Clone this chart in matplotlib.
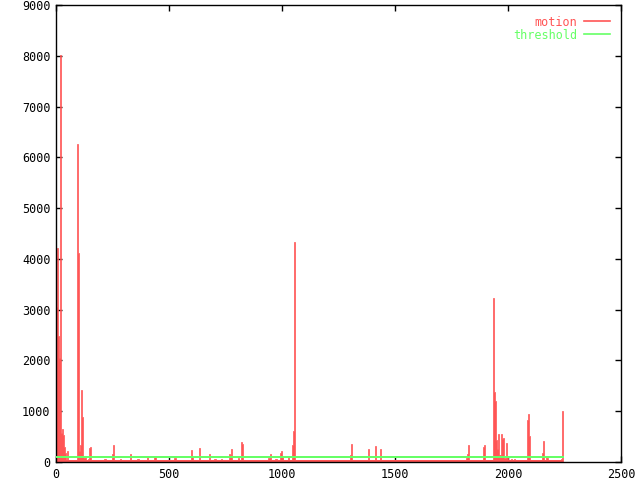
import matplotlib
matplotlib.use("Agg")
import matplotlib.pyplot as plt

_FONT = "DejaVu Sans Mono"
RED = "#ff5555"
GREEN = "#66ff66"

# motion value per frame, held from each frame until the next one
frames = [
    0, 4, 9, 13, 18, 21, 25, 30, 34, 38, 43, 47, 52,
    91, 96, 100, 105, 109, 113, 118, 122, 127, 131, 140, 144, 149, 153, 157,
    212, 221, 248, 252, 257, 282, 286, 326, 330, 357, 366, 404, 408, 434, 442,
    522, 531, 549, 558, 597, 602, 606, 633, 637, 676, 680, 699, 708, 730, 735,
    766, 770, 774, 779, 783, 805, 810, 819, 823, 827, 938, 947, 951, 969, 978,
    991, 996, 1000, 1004, 1027, 1031, 1044, 1049, 1053, 1057,
    1301, 1305, 1310, 1380, 1385, 1407, 1411, 1416, 1434, 1438,
    1814, 1818, 1823, 1827, 1889, 1894, 1898,
    1934, 1938, 1942, 1947, 1951, 1956, 1960, 1969, 1973, 1978, 1982, 1991,
    1996, 2000, 2004, 2013, 2018, 2027, 2031, 2082, 2087, 2091, 2096, 2102,
    2111, 2150, 2155, 2159, 2167, 2171, 2175, 2233, 2237, 2245,
]
motion = [
    3050, 4210, 2480, 2050, 8010, 577, 650, 530, 300, 180, 40, 220, 0,
    6260, 4110, 220, 335, 1420, 880, 100, 70, 120, 40, 60, 280, 300, 60, 30,
    60, 30, 160, 335, 30, 60, 30, 160, 30, 50, 30, 100, 30, 90, 20,
    85, 20, 40, 20, 236, 90, 20, 275, 20, 157, 20, 60, 20, 50, 20,
    157, 130, 256, 40, 20, 80, 20, 394, 360, 20, 72, 150, 20, 60, 20,
    183, 216, 110, 20, 110, 30, 335, 610, 4340, 0,
    138, 360, 0, 256, 0, 20, 315, 0, 256, 0,
    72, 157, 335, 0, 300, 335, 0,
    3235, 1385, 1207, 433, 250, 551, 138, 551, 446, 479, 72, 374,
    118, 40, 20, 50, 30, 60, 20, 827, 945, 512, 20, 30,
    20, 171, 413, 20, 118, 72, 20, 50, 1004, 1004,
]
threshold = 100

x_ticks = [0, 500, 1000, 1500, 2000, 2500]
y_ticks = [0, 1000, 2000, 3000, 4000, 5000, 6000, 7000, 8000, 9000]

fig = plt.figure(figsize=(6.4, 4.8), dpi=100)
ax = fig.add_axes([56 / 640, 18 / 480, 565 / 640, 457 / 480])

ax.fill_between(frames, 0, motion, step="post", facecolor=RED, edgecolor=RED,
                lw=0.5, antialiased=False, zorder=2)
ax.plot([frames[0], frames[-1]], [0, 0], color=RED, lw=1.5, zorder=2,
        solid_capstyle="butt", antialiased=False)
ax.plot([], [], color=RED, lw=1.2, label="motion")
ax.plot([frames[0], frames[-1]], [threshold, threshold], color=GREEN, lw=1.2,
        zorder=3, label="threshold", antialiased=False)

ax.set_xlim(x_ticks[0], x_ticks[-1])
ax.set_ylim(y_ticks[0], y_ticks[-1])
ax.set_xticks(x_ticks)
ax.set_yticks(y_ticks)
ax.tick_params(direction="in", length=4, width=1, top=True, right=True,
               labelsize=8.5, pad=4)
for lab in ax.get_xticklabels() + ax.get_yticklabels():
    lab.set_fontfamily(_FONT)
for s in ax.spines.values():
    s.set_linewidth(1)
    s.set_color("black")

leg = ax.legend(loc="upper right", frameon=False, markerfirst=False,
                prop={"family": _FONT, "size": 8.5}, handlelength=2.2,
                handletextpad=0.6, labelspacing=0.0, borderaxespad=0.5,
                labelcolor="linecolor")

fig.savefig("out.png", dpi=100)
